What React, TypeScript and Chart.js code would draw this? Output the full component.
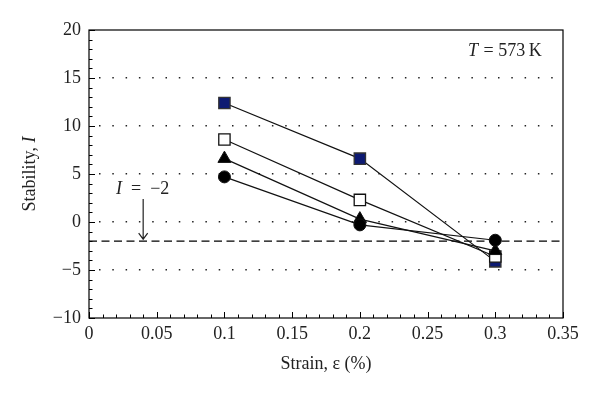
import React, { useEffect, useRef } from "react";
import { Chart, registerables } from "chart.js";

Chart.register(...registerables);

const strain = [0.1, 0.2, 0.3];
const navySquare = [12.4, 6.6, -4.1];
const openSquare = [8.6, 2.3, -3.6];
const triangle = [6.6, 0.3, -3.0];
const circle = [4.7, -0.3, -1.9];
const thresholdValue = -2;
const xTicks = [0, 0.05, 0.1, 0.15, 0.2, 0.25, 0.3, 0.35];
const yTicks = [-10, -5, 0, 5, 10, 15, 20];

const FONT = "'Liberation Serif', 'DejaVu Serif', serif";
const FS = 18;

const toPts = (ys: number[]) => strain.map((x, i) => ({ x, y: ys[i] }));

const overlay = {
  id: "overlay",
  beforeDatasetsDraw(chart: any) {
    const { ctx, chartArea: a, scales } = chart;
    const ys = scales.y;
    ctx.save();
    const yT = ys.getPixelForValue(thresholdValue);
    ctx.strokeStyle = "#000";
    ctx.lineWidth = 1.3;
    ctx.setLineDash([8, 4.5]);
    ctx.beginPath();
    ctx.moveTo(a.left, yT);
    ctx.lineTo(a.right, yT);
    ctx.stroke();
    ctx.restore();
  },
  afterDraw(chart: any) {
    const { ctx, chartArea: a, scales } = chart;
    const xs = scales.x;
    const ys = scales.y;
    ctx.save();
    ctx.strokeStyle = "#000";
    ctx.lineWidth = 1.2;
    ctx.setLineDash([]);
    ctx.strokeRect(a.left, a.top, a.right - a.left, a.bottom - a.top);
    ctx.lineWidth = 1;
    for (let v = -10; v <= 20; v += 1) {
      const y = Math.round(ys.getPixelForValue(v)) + 0.5;
      const len = v % 5 === 0 ? 6 : 3.5;
      ctx.beginPath();
      ctx.moveTo(a.left, y);
      ctx.lineTo(a.left + len, y);
      ctx.stroke();
    }
    for (let i = 0; i <= 35; i++) {
      const v = i / 100;
      const x = Math.round(xs.getPixelForValue(v)) + 0.5;
      const len = i % 5 === 0 ? 6 : 3.5;
      ctx.beginPath();
      ctx.moveTo(x, a.bottom);
      ctx.lineTo(x, a.bottom - len);
      ctx.stroke();
    }
    ctx.fillStyle = "#222";
    ctx.font = `${FS}px ${FONT}`;
    ctx.textAlign = "center";
    ctx.textBaseline = "middle";
    ctx.fillText("Strain, ε (%)", (a.left + a.right) / 2, 364);
    ctx.save();
    ctx.translate(30, (a.top + a.bottom) / 2);
    ctx.rotate(-Math.PI / 2);
    ctx.font = `${FS}px ${FONT}`;
    const p1 = "Stability, ";
    const p2 = "I";
    const w1 = ctx.measureText(p1).width;
    ctx.font = `italic ${FS}px ${FONT}`;
    const w2 = ctx.measureText(p2).width;
    const sx = -(w1 + w2) / 2;
    ctx.textAlign = "left";
    ctx.font = `${FS}px ${FONT}`;
    ctx.fillText(p1, sx, 0);
    ctx.font = `italic ${FS}px ${FONT}`;
    ctx.fillText(p2, sx + w1, 0);
    ctx.restore();

    ctx.textAlign = "left";
    ctx.textBaseline = "alphabetic";
    ctx.font = `italic ${FS}px ${FONT}`;
    ctx.fillText("T", 468, 56);
    const tw = ctx.measureText("T").width;
    ctx.font = `${FS}px ${FONT}`;
    ctx.fillText(" = 573\u2009K", 468 + tw + 1, 56);

    ctx.font = `italic ${FS}px ${FONT}`;
    ctx.fillText("I", 116, 194);
    const iw = ctx.measureText("I").width;
    ctx.font = `${FS}px ${FONT}`;
    ctx.fillText("\u2002=\u2002\u22122", 116 + iw, 194);

    const ax = xs.getPixelForValue(0.04);
    const yT = ys.getPixelForValue(thresholdValue);
    ctx.strokeStyle = "#222";
    ctx.lineWidth = 1.2;
    ctx.beginPath();
    ctx.moveTo(ax, 199);
    ctx.lineTo(ax, yT - 2);
    ctx.moveTo(ax - 4.5, yT - 8);
    ctx.lineTo(ax, yT - 2);
    ctx.lineTo(ax + 4.5, yT - 8);
    ctx.stroke();
    ctx.restore();
  },
};

export default function App() {
  const ref = useRef<HTMLCanvasElement | null>(null);
  useEffect(() => {
    if (!ref.current) return;
    const lineBase = {
      showLine: true,
      borderColor: "#111",
      borderWidth: 1.2,
      pointBorderColor: "#111",
      pointBorderWidth: 1,
      fill: false,
    };
    const chart = new Chart(ref.current, {
      type: "scatter",
      data: {
        datasets: [
          {
            ...lineBase,
            label: "circle",
            data: toPts(circle),
            pointStyle: "circle",
            pointRadius: 6,
            pointBackgroundColor: "#000",
            order: 1,
          },
          {
            ...lineBase,
            label: "triangle",
            data: toPts(triangle),
            pointStyle: "triangle",
            pointRadius: 7.5,
            pointBackgroundColor: "#000",
            order: 2,
          },
          {
            ...lineBase,
            label: "open square",
            data: toPts(openSquare),
            pointStyle: "rect",
            pointRadius: 8,
            pointBackgroundColor: "#fff",
            pointBorderWidth: 1.3,
            order: 3,
          },
          {
            ...lineBase,
            label: "navy square",
            data: toPts(navySquare),
            pointStyle: "rect",
            pointRadius: 8,
            pointBackgroundColor: "#0d1a72",
            pointBorderColor: "#333",
            pointBorderWidth: 1.3,
            order: 4,
          },
        ],
      },
      options: {
        responsive: false,
        animation: false,
        events: [],
        layout: { padding: { left: 0, top: 30, right: 37, bottom: 0 } },
        plugins: { legend: { display: false }, tooltip: { enabled: false } },
        scales: {
          x: {
            type: "linear",
            min: 0,
            max: 0.35,
            afterBuildTicks: (s: any) => {
              s.ticks = xTicks.map((v) => ({ value: v }));
            },
            afterFit: (s: any) => {
              s.height = 76;
            },
            ticks: {
              color: "#222",
              font: { family: FONT, size: FS },
              padding: 5,
              maxRotation: 0,
              callback: (v: any) => String(Number(Number(v).toFixed(2))),
            },
            grid: { display: false, drawTicks: false },
            border: { display: false },
          },
          y: {
            type: "linear",
            min: -10,
            max: 20,
            afterBuildTicks: (s: any) => {
              s.ticks = yTicks.map((v) => ({ value: v }));
            },
            afterFit: (s: any) => {
              s.width = 89;
            },
            ticks: {
              color: "#222",
              font: { family: FONT, size: FS },
              padding: 8,
              callback: (v: any) => String(v).replace("-", "\u2212"),
            },
            grid: {
              drawTicks: false,
              color: (c: any) =>
                c.tick && (c.tick.value === 20 || c.tick.value === -10)
                  ? "rgba(0,0,0,0)"
                  : "#222",
              lineWidth: 1.5,
            },
            border: { display: false, dash: [1.5, 11.8], dashOffset: -10 },
          },
        },
      },
      plugins: [overlay],
    } as any);
    return () => chart.destroy();
  }, []);
  return (
    <div style={{ position: "fixed", left: 0, top: 0, width: 600, height: 394, background: "#fff" }}>
      <canvas ref={ref} width={600} height={394} />
    </div>
  );
}
